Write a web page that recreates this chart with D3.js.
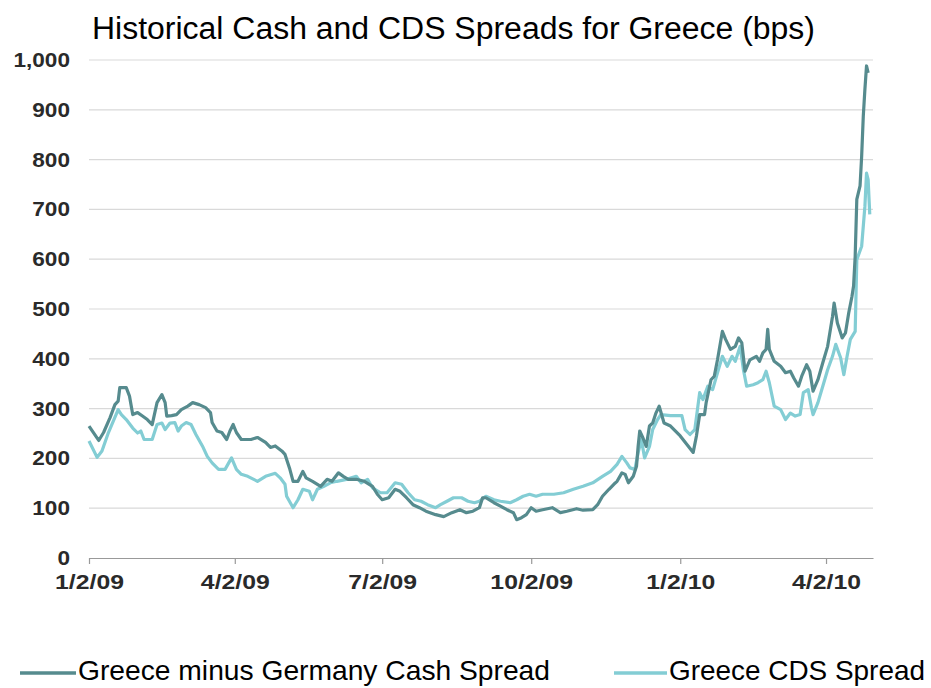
<!DOCTYPE html>
<html><head><meta charset="utf-8">
<script src="https://cdn.jsdelivr.net/npm/d3@7"></script>
<style>body{margin:0;background:#fff;} svg{display:block;}</style>
</head><body>
<svg id="chart" width="931" height="688"></svg>
<script>
const titleText = "Historical Cash and CDS Spreads for Greece (bps)";
const seriesNames = ["Greece minus Germany Cash Spread", "Greece CDS Spread"];
const yTicks = [0,100,200,300,400,500,600,700,800,900,1000];
const xTickDates = ["2009-01-02","2009-04-02","2009-07-02","2009-10-02","2010-01-02","2010-04-02"];

const cashDates = ["2009-01-02","2009-01-08","2009-01-11","2009-01-15","2009-01-18","2009-01-20","2009-01-21","2009-01-25","2009-01-27","2009-01-29","2009-02-01","2009-02-04","2009-02-07","2009-02-10","2009-02-13","2009-02-16","2009-02-18","2009-02-19","2009-02-22","2009-02-25","2009-02-28","2009-03-04","2009-03-07","2009-03-11","2009-03-15","2009-03-18","2009-03-19","2009-03-22","2009-03-25","2009-03-28","2009-03-30","2009-04-01","2009-04-03","2009-04-06","2009-04-12","2009-04-16","2009-04-21","2009-04-24","2009-04-27","2009-05-01","2009-05-03","2009-05-06","2009-05-08","2009-05-11","2009-05-14","2009-05-16","2009-05-20","2009-05-25","2009-05-29","2009-06-01","2009-06-05","2009-06-08","2009-06-11","2009-06-16","2009-06-21","2009-06-26","2009-06-29","2009-07-02","2009-07-06","2009-07-10","2009-07-13","2009-07-17","2009-07-21","2009-07-25","2009-07-29","2009-08-04","2009-08-09","2009-08-14","2009-08-19","2009-08-23","2009-08-27","2009-08-31","2009-09-02","2009-09-04","2009-09-09","2009-09-13","2009-09-17","2009-09-21","2009-09-23","2009-09-26","2009-09-29","2009-10-02","2009-10-05","2009-10-09","2009-10-15","2009-10-20","2009-10-24","2009-10-30","2009-11-03","2009-11-09","2009-11-12","2009-11-15","2009-11-19","2009-11-22","2009-11-24","2009-11-27","2009-11-29","2009-12-01","2009-12-04","2009-12-06","2009-12-07","2009-12-08","2009-12-10","2009-12-12","2009-12-14","2009-12-16","2009-12-18","2009-12-20","2009-12-23","2009-12-27","2010-01-02","2010-01-10","2010-01-12","2010-01-14","2010-01-17","2010-01-18","2010-01-21","2010-01-23","2010-01-25","2010-01-28","2010-01-30","2010-02-02","2010-02-05","2010-02-07","2010-02-09","2010-02-11","2010-02-14","2010-02-18","2010-02-20","2010-02-22","2010-02-24","2010-02-25","2010-02-26","2010-03-01","2010-03-05","2010-03-08","2010-03-11","2010-03-13","2010-03-16","2010-03-18","2010-03-21","2010-03-23","2010-03-25","2010-03-28","2010-03-31","2010-04-03","2010-04-06","2010-04-07","2010-04-09","2010-04-12","2010-04-14","2010-04-16","2010-04-18","2010-04-19","2010-04-20","2010-04-21","2010-04-23","2010-04-24","2010-04-25","2010-04-26","2010-04-27","2010-04-28"];
const cashValues = [265,236,252,282,308,315,342,342,325,288,292,285,278,268,312,328,312,285,286,288,298,305,312,308,302,292,272,255,252,238,255,268,252,238,238,242,232,222,225,215,208,178,154,154,174,161,154,144,158,154,171,164,158,158,154,144,128,117,121,138,134,121,107,101,94,87,83,91,97,91,94,101,121,121,111,104,97,91,77,81,87,101,94,97,101,91,94,99,96,97,107,124,138,148,154,171,168,151,164,184,224,255,241,224,265,271,291,305,271,265,245,212,245,288,288,312,358,365,398,455,439,419,425,442,432,375,398,405,395,412,419,459,419,395,385,372,375,362,345,365,388,375,335,358,392,425,485,512,472,442,452,492,525,546,606,720,747,807,887,941,988,974];

const cdsDates = ["2009-01-02","2009-01-07","2009-01-10","2009-01-14","2009-01-17","2009-01-20","2009-01-22","2009-01-25","2009-01-29","2009-02-01","2009-02-03","2009-02-05","2009-02-10","2009-02-13","2009-02-16","2009-02-18","2009-02-21","2009-02-24","2009-02-26","2009-02-28","2009-03-03","2009-03-06","2009-03-09","2009-03-13","2009-03-16","2009-03-19","2009-03-23","2009-03-27","2009-03-31","2009-04-03","2009-04-06","2009-04-10","2009-04-16","2009-04-21","2009-04-27","2009-04-30","2009-05-03","2009-05-04","2009-05-08","2009-05-11","2009-05-14","2009-05-18","2009-05-20","2009-05-23","2009-05-27","2009-05-31","2009-06-04","2009-06-10","2009-06-16","2009-06-19","2009-06-23","2009-06-26","2009-07-01","2009-07-05","2009-07-10","2009-07-14","2009-07-18","2009-07-22","2009-07-26","2009-07-30","2009-08-04","2009-08-07","2009-08-11","2009-08-15","2009-08-20","2009-08-24","2009-08-28","2009-08-31","2009-09-04","2009-09-09","2009-09-13","2009-09-19","2009-09-23","2009-09-27","2009-10-01","2009-10-05","2009-10-09","2009-10-16","2009-10-22","2009-10-28","2009-11-03","2009-11-09","2009-11-15","2009-11-20","2009-11-24","2009-11-27","2009-11-30","2009-12-02","2009-12-05","2009-12-07","2009-12-09","2009-12-11","2009-12-14","2009-12-16","2009-12-19","2009-12-21","2009-12-27","2010-01-03","2010-01-05","2010-01-08","2010-01-11","2010-01-14","2010-01-16","2010-01-19","2010-01-22","2010-01-25","2010-01-28","2010-01-31","2010-02-03","2010-02-05","2010-02-08","2010-02-10","2010-02-12","2010-02-16","2010-02-19","2010-02-22","2010-02-24","2010-02-26","2010-03-01","2010-03-05","2010-03-08","2010-03-11","2010-03-14","2010-03-17","2010-03-19","2010-03-22","2010-03-24","2010-03-25","2010-03-28","2010-03-31","2010-04-03","2010-04-06","2010-04-08","2010-04-11","2010-04-13","2010-04-15","2010-04-17","2010-04-20","2010-04-21","2010-04-24","2010-04-26","2010-04-27","2010-04-28","2010-04-29"];
const cdsValues = [235,202,215,252,275,298,288,278,261,251,255,238,238,268,271,258,271,272,255,265,272,268,248,225,204,191,178,178,201,178,168,164,154,164,170,161,148,124,101,117,138,134,117,138,144,151,154,158,164,151,158,141,131,131,151,148,131,117,114,107,101,107,114,121,121,114,111,114,124,117,114,111,117,124,128,124,128,128,131,138,144,151,164,174,188,204,191,181,178,211,238,201,224,258,278,288,286,286,258,248,258,332,318,345,338,372,405,385,405,395,425,378,345,348,352,358,375,352,305,298,278,291,285,288,332,338,302,288,312,345,378,405,429,402,368,405,439,455,599,626,706,773,760,690];

const colors = ["#568b8e", "#83cdd4"];
const parse = d3.timeParse("%Y-%m-%d");
const cash = cashDates.map((d,i)=>({date:parse(d), value:cashValues[i]}));
const cds = cdsDates.map((d,i)=>({date:parse(d), value:cdsValues[i]}));

const svg = d3.select("#chart");
const x = d3.scaleTime().domain([parse("2009-01-02"), parse("2010-05-01")]).range([89, 873]);
const y = d3.scaleLinear().domain([0, 1000]).range([558, 60]);
const font = "Arial, 'Liberation Sans', sans-serif";

function stretch(sel, factor) {
  sel.each(function() {
    const w = this.getComputedTextLength();
    d3.select(this).attr("textLength", w * factor).attr("lengthAdjust", "spacingAndGlyphs");
  });
}

// title
svg.append("text").attr("x", 92).attr("y", 39)
  .attr("font-family", font).attr("font-size", 31).attr("fill", "#000")
  .attr("textLength", 723).attr("lengthAdjust", "spacingAndGlyphs")
  .text(titleText);

// gridlines
svg.append("g").selectAll("line").data(yTicks.filter(t=>t>0)).join("line")
  .attr("x1", 89).attr("x2", 873).attr("y1", d=>y(d)).attr("y2", d=>y(d))
  .attr("stroke", "#d9d9d9").attr("stroke-width", 1.2);

// y labels
const yl = svg.append("g").selectAll("text").data(yTicks).join("text")
  .attr("x", 70).attr("y", d=>y(d)+7)
  .attr("text-anchor", "end").attr("font-family", font).attr("font-size", 20)
  .attr("font-weight", "bold").attr("fill", "#2a2a2a")
  .text(d=>d3.format(",")(d));
stretch(yl, 1.13);

// x axis
const xAxis = d3.axisBottom(x).tickValues(xTickDates.map(parse))
  .tickFormat(d3.timeFormat("%-m/%-d/%y")).tickSize(6).tickSizeOuter(0);
const gx = svg.append("g").attr("transform", `translate(0,${y(0)})`).call(xAxis);
gx.select(".domain").attr("stroke", "#999").attr("stroke-width", 1.2);
gx.selectAll(".tick line").attr("stroke", "#999").attr("stroke-width", 1.2);
const xl = gx.selectAll(".tick text").attr("font-family", font).attr("font-size", 21)
  .attr("font-weight", "bold").attr("fill", "#2a2a2a").attr("dy", "1.05em");
stretch(xl, 1.18);

// lines
const line = d3.line().x(d=>x(d.date)).y(d=>y(d.value)).curve(d3.curveLinear);
svg.append("path").datum(cds).attr("d", line).attr("fill", "none")
  .attr("stroke", colors[1]).attr("stroke-width", 3.2).attr("stroke-linejoin", "round");
svg.append("path").datum(cash).attr("d", line).attr("fill", "none")
  .attr("stroke", colors[0]).attr("stroke-width", 3.2).attr("stroke-linejoin", "round");

// legend
const legendItems = [{name: seriesNames[0], color: colors[0], x1: 20, x2: 76, tx: 78, w: 472},
                     {name: seriesNames[1], color: colors[1], x1: 614, x2: 667, tx: 669, w: 256}];
const lg = svg.append("g").selectAll("g").data(legendItems).join("g");
lg.append("line").attr("x1", d=>d.x1).attr("x2", d=>d.x2).attr("y1", 673).attr("y2", 673)
  .attr("stroke", d=>d.color).attr("stroke-width", 3.5);
lg.append("text").attr("x", d=>d.tx).attr("y", 680).attr("font-family", font)
  .attr("font-size", 28).attr("fill", "#000")
  .attr("textLength", d=>d.w).attr("lengthAdjust", "spacingAndGlyphs").text(d=>d.name);
</script>
</body></html>
